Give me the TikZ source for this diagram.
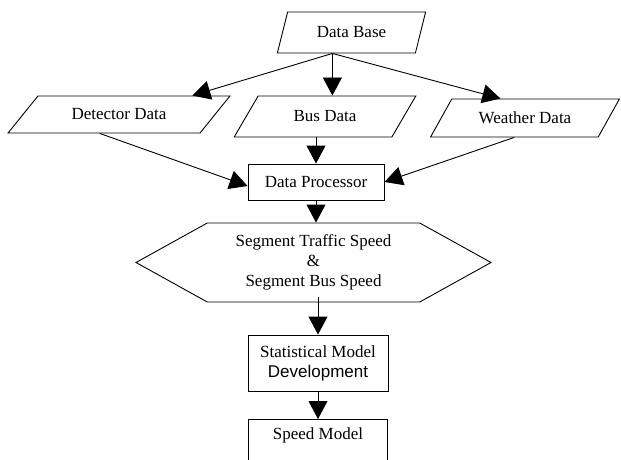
\documentclass[tikz,border=0pt]{standalone}
\usepackage{fontspec}
\setmainfont{Liberation Serif}
\setsansfont{Liberation Sans}
\usetikzlibrary{arrows.meta, shapes.geometric, shapes.symbols, calc}

\begin{document}
\begin{tikzpicture}[x=1pt,y=-1pt,font=\fontsize{17}{20}\selectfont]
		\tikzstyle{dat}=[draw, line width=0.9pt, trapezium, trapezium stretches=true, inner sep=2pt]
		\tikzstyle{box}=[draw, line width=0.9pt, rectangle, align=center]
		\tikzstyle{arr}=[line width=0.9pt, -{Triangle[length=18pt,width=19pt]}]
		\useasboundingbox (0,0) rectangle (621,460);
		% input data
		\node[dat, trapezium left angle=69, trapezium right angle=111, minimum width=149pt, minimum height=41pt] (db) at (351.5,32.5) {Data Base};
		\node[dat, trapezium left angle=40, trapezium right angle=140, minimum width=222pt, minimum height=37pt] (det) at (119,114.5) {Detector Data};
		\node[dat, trapezium left angle=52, trapezium right angle=128, minimum width=182pt, minimum height=41pt] (bus) at (325,116.5) {Bus Data};
		\node[dat, trapezium left angle=49, trapezium right angle=131, minimum width=189pt, minimum height=38pt] (wea) at (525,118) {Weather Data};
		% processing
		\node[box, minimum width=136pt, minimum height=36pt] (dp) at (316,182) {Data Processor};
		\node[draw, line width=0.9pt, signal, signal to=west and east, signal pointer angle=58, minimum width=355pt, minimum height=79pt, align=center] (hex) at (313.5,262.5) {Segment Traffic Speed\\\&\\Segment Bus Speed};
		\node[box, minimum width=140pt, minimum height=56pt] (smd) at (318,363) {Statistical Model\\\textsf{Development}};
		\node[box, anchor=north, minimum width=139pt, text height=17pt, text depth=30pt] (sm) at (318,419) {Speed Model};
		% connectors
		\coordinate (dbout) at ($(db.bottom left corner)!0.4!(db.bottom right corner)$);
		\draw[arr] (dbout) -- ($(det.top left corner)!0.8!(det.top right corner)$);
		\draw[arr] (dbout) -- (dbout |- bus.north);
		\draw[arr] (dbout) -- ($(wea.top left corner)!0.29!(wea.top right corner)$);
		\draw[arr] ($(det.bottom left corner)!0.48!(det.bottom right corner)$) -- ([yshift=-4pt]dp.west);
		\draw[arr] (dp.north |- bus.south) -- (dp.north);
		\draw[arr] ($(wea.bottom left corner)!0.5!(wea.bottom right corner)$) -- (dp.east);
		\draw[arr] (dp.south) -- (dp.south |- hex.north);
		\draw[arr] ([yshift=5pt]smd.north |- hex.south) -- (smd.north);
		\draw[arr] (smd.south) -- (sm.north);
\end{tikzpicture}
\end{document}
